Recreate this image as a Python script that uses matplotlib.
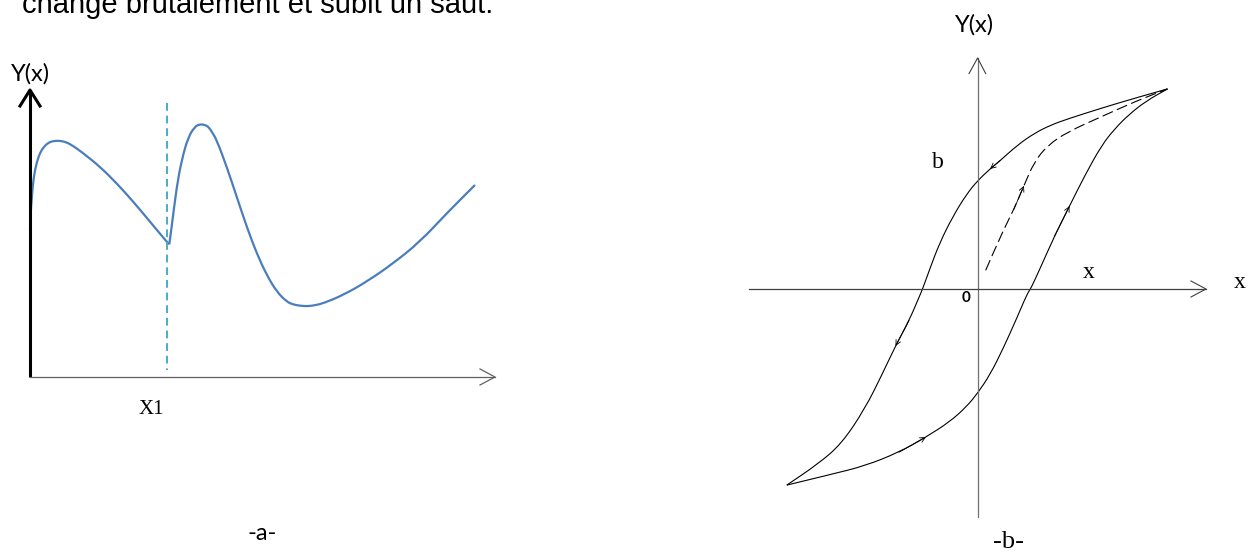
import matplotlib.pyplot as plt
from matplotlib.path import Path
from matplotlib.patches import PathPatch

# --- figure a : courbe avec un saut en X1 (coordonnées du dessin, en pixels) ---
# avant le saut
curve_a1_x = [30, 30.6, 31.7, 33, 35, 37.5, 40, 43, 46.7, 51, 56.7, 61, 66.7, 74, 83.3, 100,
              116.7, 133.3, 150, 166.7, 169.3]
curve_a1_y = [230, 213, 200, 183, 170, 160, 153, 148, 144, 141.5, 140.7, 141, 142.3, 146.5, 153.3, 166.7,
              183.3, 201.7, 221.7, 241.7, 244.3]
# après le saut
curve_a2_x = [169.3, 171.7, 176.7, 181.7, 188.3, 195, 198.5, 201.7, 205, 208.3, 212, 216.7, 226.7,
              236.7, 246.7, 256.7, 266.7, 276.7, 286.7, 293, 300, 305, 310, 316, 323.3, 343.3,
              366.7, 393.3, 420, 446.7, 475]
curve_a2_y = [244.3, 226.7, 186.7, 160, 136.7, 126.7, 124.8, 124.3, 125, 126.7, 132, 140, 166.7,
              196.7, 226.7, 253.3, 275, 291.7, 301.7, 304.5, 305.7, 306.1, 306, 305, 303.3, 295,
              281.7, 263.3, 241.7, 213.3, 185]
x1_pos = 167

# --- figure b : cycle d'hystérésis ---
desc_x = [1167.5, 1135.4, 1101.6, 1067.8, 1050.9, 1034.1, 1017.2, 1000.3, 990.1, 977.6, 966.5,
          953.0, 939.5, 929.3, 922.6, 919.2, 909.1, 895.5, 882.0, 865.1, 841.5, 817.8, 786.8]
desc_y = [88.9, 98.0, 108.1, 118.9, 125.0, 133.4, 145.3, 160.5, 168.9, 180.7, 194.3,
          216.2, 243.2, 270.3, 288.9, 296.9, 320.5, 345.9, 374.6, 408.4, 443.9, 464.1, 485.1]
asc_x = [786.8, 831.4, 865.1, 898.9, 925.9, 949.6, 966.5, 977.6, 990.1, 1003.6, 1017.2, 1027.3,
         1030.7, 1040.8, 1054.3, 1069.5, 1084.7, 1101.6, 1115.1, 1128.6, 1145.5, 1167.5]
asc_y = [485.1, 474.3, 465.8, 452.3, 437.1, 421.9, 406.7, 393.2, 374.6, 347.6, 317.2, 293.5,
         288.9, 266.9, 236.5, 206.1, 175.7, 145.3, 128.4, 114.9, 101.4, 88.9]
first_x = [985.7, 1000.3, 1013.8, 1023.9, 1034.1, 1047.6, 1067.8, 1101.6, 1135.4, 1167.5]
first_y = [270.3, 236.5, 209.5, 185.8, 162.2, 145.3, 131.8, 116.6, 101.4, 88.9]


def smooth(xs, ys, **kw):
    # courbe lissée : les points lus servent de points de contrôle quadratiques
    pts = list(zip(xs, ys))
    verts = [pts[0]]
    codes = [Path.MOVETO]
    for i in range(1, len(pts) - 1):
        mid = ((pts[i][0] + pts[i + 1][0]) / 2, (pts[i][1] + pts[i + 1][1]) / 2)
        verts += [pts[i], mid]
        codes += [Path.CURVE3, Path.CURVE3]
    verts.append(pts[-1])
    codes.append(Path.LINETO)
    return PathPatch(Path(verts, codes), fill=False, **kw)


fig = plt.figure(figsize=(12.57, 5.53), dpi=100)
ax = fig.add_axes([0, 0, 1, 1])
ax.set_xlim(0, 1257)
ax.set_ylim(553, 0)
ax.axis('off')

# texte du paragraphe au-dessus (coupé en haut)
ax.text(22, 13, "change brutalement et subit un saut.", fontsize=21,
        family='Liberation Sans', va='baseline', ha='left')

# ----- a -----
ax.plot([30, 30], [377, 92], color='black', lw=2.2, solid_capstyle='butt')
ax.plot([20, 30, 40], [106, 90, 106], color='black', lw=2.2)
ax.plot([30, 495], [377, 377], color='#606060', lw=0.9)
ax.plot([480, 495, 480], [369, 377, 385], color='#606060', lw=0.9)
ax.plot([x1_pos, x1_pos], [103, 370], color='#4BACC6', lw=1.4, dashes=(4, 2.5))
ax.add_patch(smooth(curve_a1_x, curve_a1_y, edgecolor='#4A7EBB', lw=1.6))
ax.add_patch(smooth(curve_a2_x, curve_a2_y, edgecolor='#4A7EBB', lw=1.6))
ax.text(31, 74, "Y(x)", fontsize=17, family='Lato', ha='center', va='center')
ax.text(151, 410, "X1", fontsize=15, family='Liberation Serif', ha='center', va='center')
ax.text(262, 534, "-a-", fontsize=17, family='Lato', ha='center', va='center')

# ----- b -----
ax.plot([977.6, 977.6], [58, 517], color='#707070', lw=0.9)
ax.plot([969, 977.6, 985.7], [73.6, 58, 73.6], color='#404040', lw=0.8)
ax.plot([748.6, 1206], [289, 289], color='#404040', lw=0.9)
ax.plot([1191, 1206, 1191], [281, 289, 297], color='#404040', lw=0.8)

ax.add_patch(smooth(desc_x, desc_y, edgecolor='black', lw=0.8))
ax.add_patch(smooth(asc_x, asc_y, edgecolor='black', lw=0.8))
ax.add_patch(smooth(first_x, first_y, edgecolor='black', lw=0.8, linestyle=(0, (10, 4))))

# petites flèches indiquant le sens de parcours
for xs, ys, i in [(desc_x, desc_y, 8), (desc_x, desc_y, 17), (asc_x, asc_y, 4),
                  (asc_x, asc_y, 15), (first_x, first_y, 3)]:
    ax.annotate('', xy=(xs[i], ys[i]), xytext=(xs[i - 1], ys[i - 1]),
                arrowprops=dict(arrowstyle='->', color='black', lw=0.6,
                                mutation_scale=9, shrinkA=0, shrinkB=0))

ax.text(975, 25, "Y(x)", fontsize=17, family='Lato', ha='center', va='center')
ax.text(938, 163, "b", fontsize=17, family='Liberation Serif', ha='center', va='center')
ax.text(1089, 272, "x", fontsize=17, family='Liberation Serif', ha='center', va='center')
ax.text(1240, 283, "x", fontsize=17, family='Liberation Serif', ha='center', va='center')
ax.text(966, 298, "0", fontsize=11, family='Lato', fontweight='bold', ha='center', va='center')
ax.text(1008, 542, "-b-", fontsize=19, family='Liberation Serif', ha='center', va='center')

fig.savefig('out.png', dpi=100)
